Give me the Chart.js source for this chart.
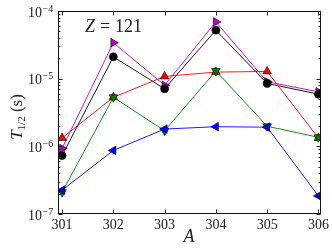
<!DOCTYPE html>
<html><head><meta charset="utf-8">
<script src="https://cdn.jsdelivr.net/npm/chart.js@4"></script>
<style>html,body{margin:0;padding:0;background:#fff;}canvas{display:block;}</style>
</head><body>
<canvas id="c" width="332" height="248"></canvas>
<script>
const massNumbers = [301, 302, 303, 304, 305, 306];
const seriesBlack = [7.3e-7, 2.1e-5, 7.1e-6, 5.2e-5, 8.5e-6, 5.9e-6];
const seriesMagenta = [9.3e-7, 3.4e-5, 8.0e-6, 6.9e-5, 9.0e-6, 6.4e-6];
const seriesRed = [1.33e-6, 5.3e-6, 1.08e-5, 1.25e-5, 1.28e-5, 1.33e-6];
const seriesGreen = [2.1e-7, 5.3e-6, 1.7e-6, 1.3e-5, 1.98e-6, 1.36e-6];
const seriesBlue = [2.25e-7, 8.7e-7, 1.8e-6, 1.95e-6, 1.92e-6, 1.85e-7];
const yTickExponents = [-4, -5, -6, -7];
const xTickLabels = ['301', '302', '303', '304', '305', '306'];

const SERIF = '"Liberation Serif", "DejaVu Serif", serif';

function pts(vals) { return massNumbers.map((a, i) => ({x: a, y: vals[i]})); }
function ds(vals, color, style, rot, r, order) {
  return {data: pts(vals), borderColor: color, backgroundColor: color, borderWidth: 0.9,
    pointStyle: style, rotation: rot, pointRadius: r, pointBorderColor: '#000',
    pointBorderWidth: 0.6, pointBackgroundColor: color, order: order, tension: 0};
}

const framePlugin = {
  id: 'frame',
  afterDraw(chart) {
    const ctx = chart.ctx, a = chart.chartArea;
    const xs = chart.scales.x, ys = chart.scales.y;
    const L = Math.round(a.left) + 0.5, R = Math.round(a.right) - 0.5;
    const T = Math.round(a.top) + 0.5, B = Math.round(a.bottom) - 0.5;
    ctx.save();
    ctx.strokeStyle = '#222';
    ctx.lineWidth = 1;
    ctx.beginPath();
    massNumbers.forEach(v => {
      const px = Math.round(xs.getPixelForValue(v)) + 0.5;
      ctx.moveTo(px, B); ctx.lineTo(px, B - 4);
      ctx.moveTo(px, T); ctx.lineTo(px, T + 4);
    });
    yTickExponents.forEach(e => {
      const py = Math.round(ys.getPixelForValue(Math.pow(10, e))) + 0.5;
      ctx.moveTo(L, py); ctx.lineTo(L + 4, py);
      ctx.moveTo(R, py); ctx.lineTo(R - 4, py);
      if (e > -7) {
        for (let m = 2; m <= 9; m++) {
          const q = Math.round(ys.getPixelForValue(m * Math.pow(10, e - 1))) + 0.5;
          ctx.moveTo(L, q); ctx.lineTo(L + 2, q);
          ctx.moveTo(R, q); ctx.lineTo(R - 2, q);
        }
      }
    });
    ctx.stroke();
    ctx.strokeStyle = '#111';
    ctx.strokeRect(L, T, R - L, B - T);
    ctx.fillStyle = '#222';
    yTickExponents.forEach(e => {
      const py = ys.getPixelForValue(Math.pow(10, e));
      ctx.font = '14px ' + SERIF;
      ctx.textAlign = 'right';
      ctx.textBaseline = 'alphabetic';
      ctx.fillText('10', 42, py + 5.5);
      ctx.font = '10px ' + SERIF;
      ctx.textAlign = 'left';
      ctx.fillText('\u2212' + Math.abs(e), 42.5, py + 0.5);
    });
    ctx.textBaseline = 'alphabetic';
    ctx.textAlign = 'left';
    ctx.font = 'italic 18px ' + SERIF;
    ctx.fillText('Z', 85, 32);
    ctx.font = '18px ' + SERIF;
    ctx.fillText('=', 100, 32);
    ctx.fillText('121', 115, 32);
    ctx.font = 'italic 18px ' + SERIF;
    ctx.textAlign = 'center';
    ctx.textBaseline = 'middle';
    ctx.fillText('A', 189, 237.5);
    ctx.save();
    ctx.translate(16, 117);
    ctx.rotate(-Math.PI / 2);
    ctx.textAlign = 'left';
    ctx.textBaseline = 'alphabetic';
    ctx.font = 'italic 17px ' + SERIF;
    const wT = ctx.measureText('T').width;
    ctx.font = '11px ' + SERIF;
    const wSub = ctx.measureText('1/2').width;
    ctx.font = '17px ' + SERIF;
    const wS = ctx.measureText(' (s)').width;
    let x0 = -(wT + wSub + wS) / 2;
    ctx.font = 'italic 17px ' + SERIF;
    ctx.fillText('T', x0, 6);
    x0 += wT;
    ctx.font = '11px ' + SERIF;
    ctx.fillText('1/2', x0, 9);
    x0 += wSub;
    ctx.font = '17px ' + SERIF;
    ctx.fillText(' (s)', x0, 6);
    ctx.restore();
    ctx.restore();
  }
};

new Chart(document.getElementById('c'), {
  type: 'line',
  data: {
    datasets: [
      ds(seriesMagenta, '#bf00bf', 'triangle', 90, 5, 5),
      ds(seriesBlack, '#000000', 'circle', 0, 4, 4),
      ds(seriesRed, '#ff0000', 'triangle', 0, 5, 3),
      ds(seriesGreen, '#008000', 'triangle', 180, 5, 2),
      ds(seriesBlue, '#0000ff', 'triangle', 270, 5, 1)
    ]
  },
  options: {
    responsive: false,
    animation: false,
    events: [],
    layout: {padding: {top: 11, right: 11, left: 0, bottom: 0}},
    plugins: {legend: {display: false}, tooltip: {enabled: false}},
    scales: {
      x: {
        type: 'linear', min: 300.92, max: 306.05,
        grid: {display: false, drawTicks: false, tickLength: 0},
        border: {display: false},
        afterBuildTicks(s) { s.ticks = massNumbers.map(v => ({value: v})); },
        afterFit(s) { s.height = 34; },
        ticks: {
          padding: 3, color: '#222', maxRotation: 0, autoSkip: false,
          font: {family: SERIF, size: 14},
          callback: (v) => xTickLabels[massNumbers.indexOf(v)] ?? ''
        }
      },
      y: {
        type: 'logarithmic', min: 1e-7, max: 1e-4,
        grid: {display: false, drawTicks: false, tickLength: 0},
        border: {display: false},
        afterFit(s) { s.width = 58; },
        ticks: {display: false}
      }
    }
  },
  plugins: [framePlugin]
});
</script>
</body></html>
